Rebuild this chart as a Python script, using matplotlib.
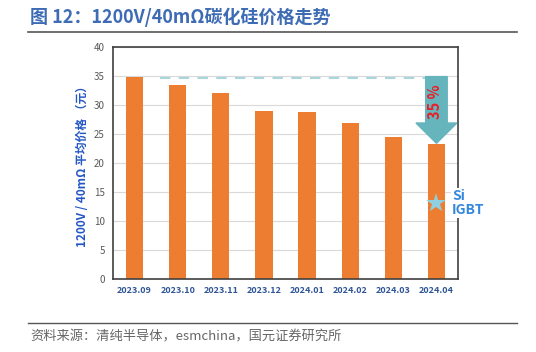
import matplotlib

matplotlib.use("Agg")
import matplotlib.pyplot as plt
from matplotlib.patches import FancyArrow

plt.rcParams["font.family"] = ["Noto Sans CJK SC", "DejaVu Sans"]

months = ["2023.09", "2023.10", "2023.11", "2023.12",
          "2024.01", "2024.02", "2024.03", "2024.04"]
prices = [34.9, 33.5, 32.1, 28.9, 28.8, 26.9, 24.5, 23.2]
ref_level = 34.6
igbt_price = 13.1
drop_label = "35 %"

fig = plt.figure(figsize=(5.36, 3.52), dpi=100)

fig.text(0.056, 0.951, "图 12：1200V/40mΩ碳化硅价格走势", color="#3d6cb4",
         fontsize=13, fontweight="bold", va="center", ha="left")
fig.add_artist(plt.Line2D([0.052, 0.965], [0.909, 0.909], color="#555555", lw=1.2))
fig.add_artist(plt.Line2D([0.052, 0.965], [0.082, 0.082], color="#555555", lw=1.0))
fig.text(0.056, 0.042, "资料来源：清纯半导体，esmchina，国元证券研究所", color="#666666",
         fontsize=9.5, va="center", ha="left")

ax = fig.add_axes([0.2108, 0.2074, 0.6437, 0.659])
x = list(range(len(months)))
ax.bar(x, prices, width=0.4, color="#ed7d31", zorder=2)
ax.set_xlim(-0.5, len(months) - 0.5)
ax.set_ylim(0, 40)
ax.set_yticks(range(0, 41, 5))
ax.yaxis.grid(True, color="#d9d9d9", lw=0.8, zorder=0)
ax.set_xticks(x)
ax.set_xticklabels(months, color="#2f5597", fontsize=6.5, fontweight="bold")
ax.tick_params(axis="y", labelsize=7, colors="#595959", length=0, pad=6)
ax.tick_params(axis="x", length=0, pad=5)
for s in ax.spines.values():
    s.set_color("#404040")
    s.set_linewidth(1.2)
ax.set_ylabel("1200V / 40mΩ 平均价格 （元）", color="#2457c5", fontsize=8.5,
              fontweight="bold", labelpad=3)

ax.plot([0.6, 7.0], [ref_level, ref_level], color="#a9d6da", lw=1.5,
        dashes=(5, 4), zorder=3)

# arrow from reference level down to the last bar
tip = prices[-1] + 0.2
arrow = FancyArrow(7.0, ref_level + 0.3, 0, tip - ref_level - 0.3, width=0.5,
                   head_width=0.95, head_length=3.5, length_includes_head=True,
                   color="#66b5bc", zorder=4)
ax.add_patch(arrow)
ax.text(6.97, 30.6, drop_label, rotation=90, color="#e8202a", fontsize=10.5,
        fontweight="bold", ha="center", va="center", zorder=5)

ax.plot([7], [igbt_price], marker="*", markersize=15, color="#8fd0e0",
        markeredgewidth=0, zorder=5)
ax.text(7.36, igbt_price, "Si\nIGBT", color="#3388dd", fontsize=10,
        fontweight="bold", ha="left", va="center", linespacing=1.05, zorder=5,
        clip_on=False, bbox=dict(facecolor="white", edgecolor="none", pad=0.5))

fig.savefig("out.png", dpi=100)
